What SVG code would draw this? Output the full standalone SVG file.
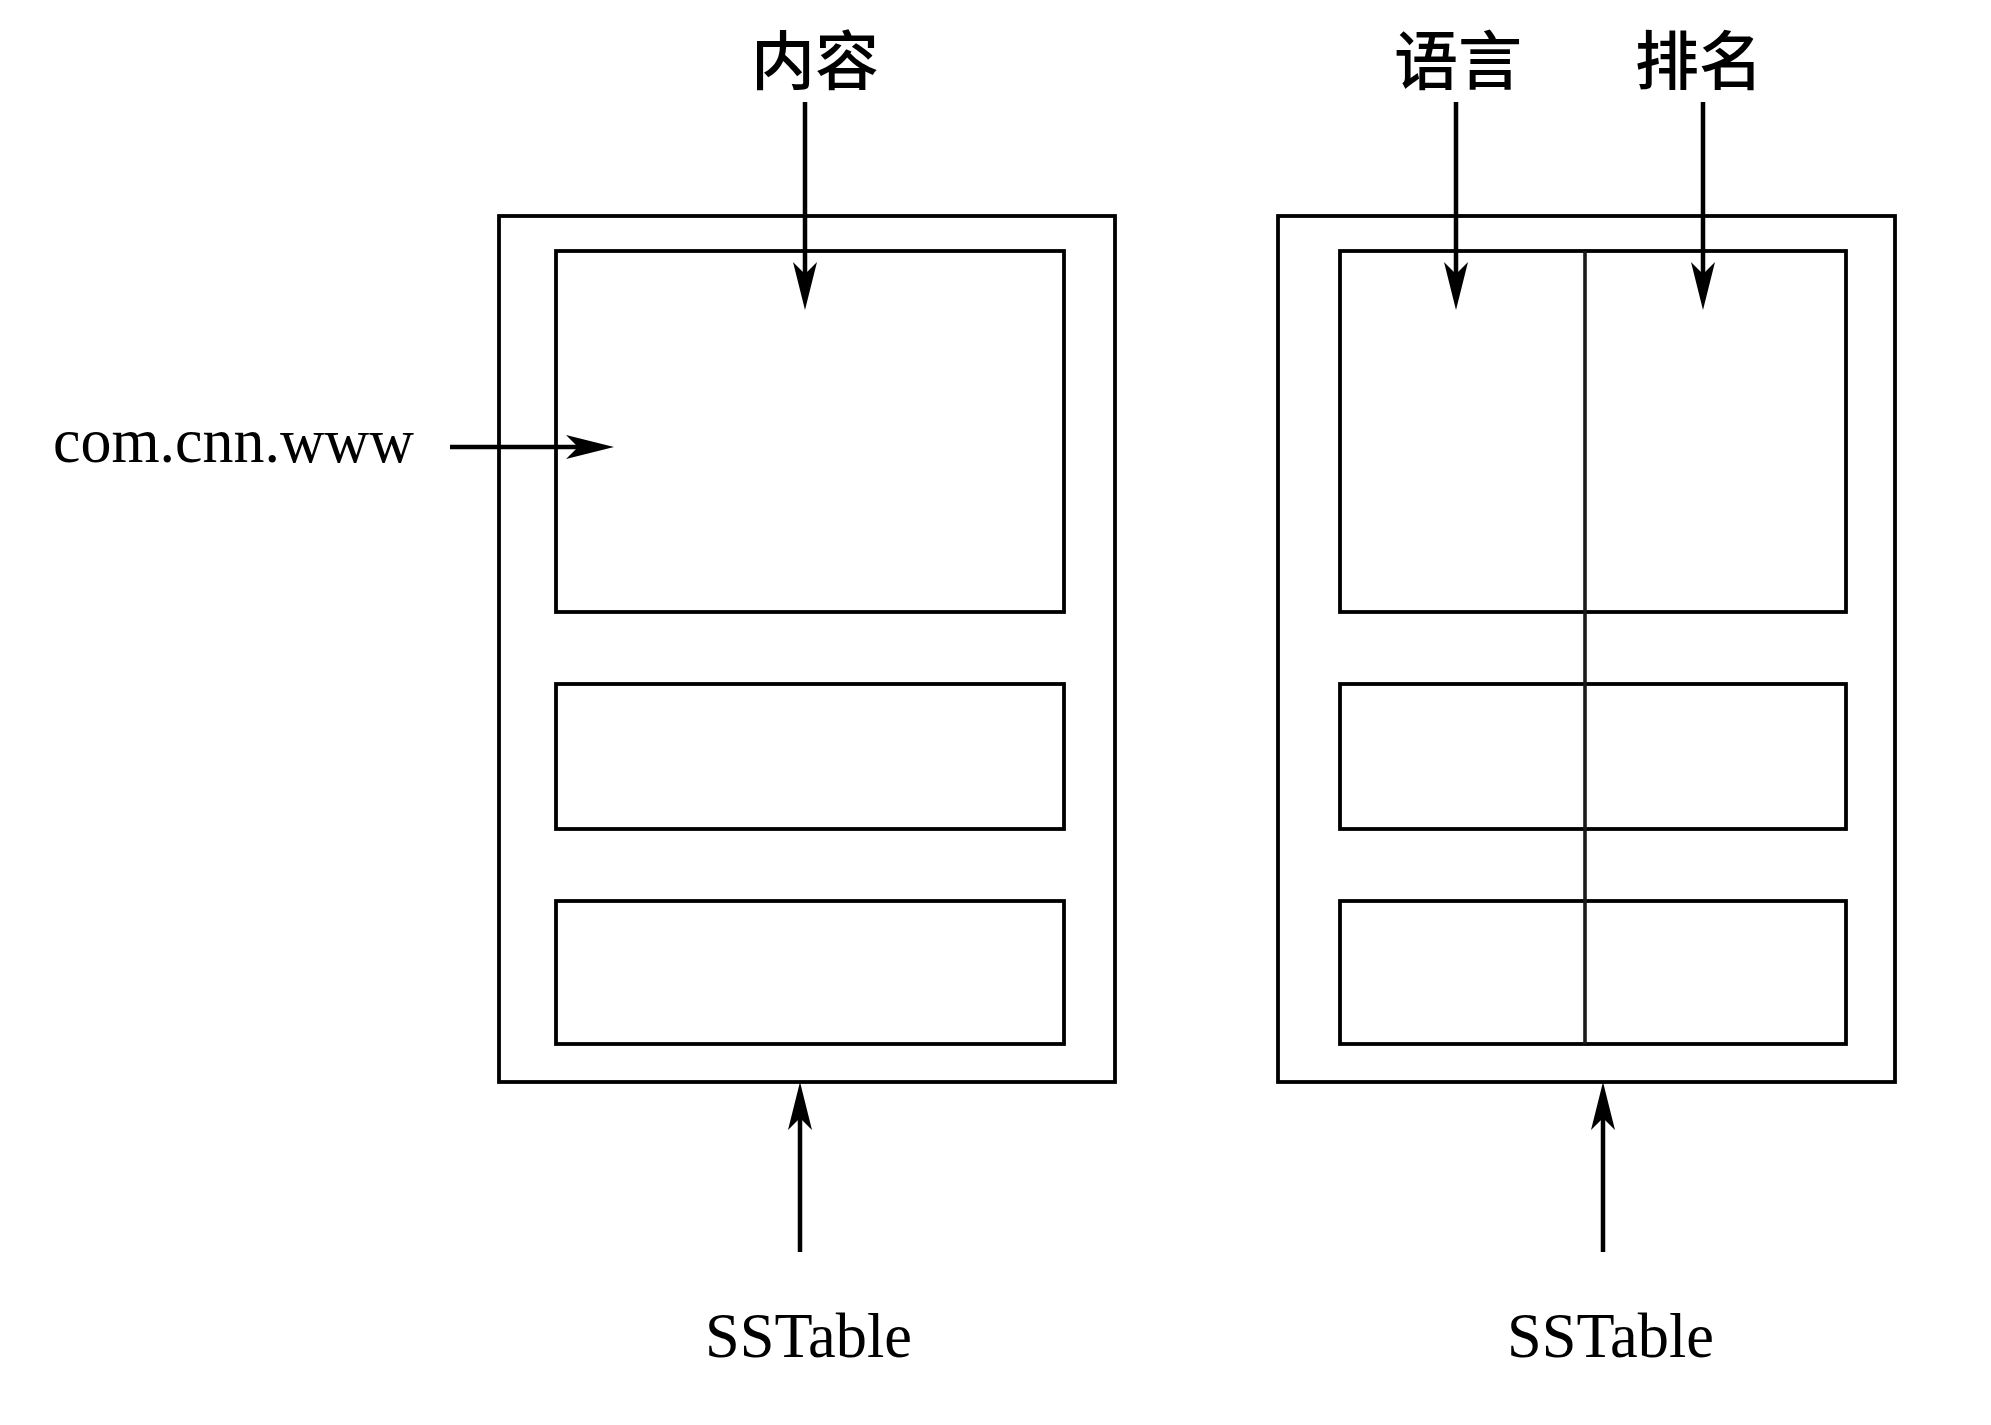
<svg xmlns="http://www.w3.org/2000/svg" width="1991" height="1425" viewBox="0 0 1991 1425">
<style>
.box{fill:none;stroke:#000;stroke-width:3.8}
.div{fill:none;stroke:#1a1a1a;stroke-width:3.6}
.conn{fill:none;stroke:#000;stroke-width:4.5}
.cjk{font-family:"Noto Sans CJK SC","Noto Sans CJK TC",sans-serif;font-size:64px;font-weight:500;fill:#000;text-anchor:middle}
.lat{font-family:"Liberation Serif","Times New Roman",serif;font-size:64px;fill:#000}
</style>
<defs>
<marker id="ah" viewBox="0 0 48 24" refX="18" refY="12" markerWidth="48" markerHeight="24" orient="auto" markerUnits="userSpaceOnUse">
<path d="M0,0 L48,12 L0,24 L12,12 Z" fill="#000"/>
</marker>
</defs>
<rect width="1991" height="1425" fill="#fff"/>
<g id="sstable-left">
<rect class="box" x="499" y="216" width="616" height="866"/>
<rect class="box" x="556" y="251" width="508" height="361"/>
<rect class="box" x="556" y="684" width="508" height="145"/>
<rect class="box" x="556" y="901" width="508" height="143"/>
</g>
<g id="sstable-right">
<rect class="box" x="1278" y="216" width="617" height="866"/>
<rect class="box" x="1340" y="251" width="506" height="361"/>
<rect class="box" x="1340" y="684" width="506" height="145"/>
<rect class="box" x="1340" y="901" width="506" height="143"/>
<line class="div" x1="1585" y1="251" x2="1585" y2="1044"/>
</g>
<g id="labels">
<text id="lbl-content" class="cjk" x="815" y="84">内容</text>
<text id="lbl-lang" class="cjk" x="1458" y="84">语言</text>
<text id="lbl-rank" class="cjk" x="1699" y="84">排名</text>
<text id="lbl-row" class="lat" x="53" y="462" font-size="66" textLength="361" lengthAdjust="spacingAndGlyphs">com.cnn.www</text>
<text id="lbl-ss1" class="lat" x="705" y="1357" textLength="207" lengthAdjust="spacingAndGlyphs">SSTable</text>
<text id="lbl-ss2" class="lat" x="1507" y="1357" textLength="207" lengthAdjust="spacingAndGlyphs">SSTable</text>
</g>
<g id="connectors">
<line class="conn" x1="805" y1="102" x2="805" y2="280" marker-end="url(#ah)"/>
<line class="conn" x1="1456" y1="102" x2="1456" y2="280" marker-end="url(#ah)"/>
<line class="conn" x1="1703" y1="102" x2="1703" y2="280" marker-end="url(#ah)"/>
<line class="conn" x1="450" y1="447" x2="584" y2="447" marker-end="url(#ah)"/>
<line class="conn" x1="800" y1="1252" x2="800" y2="1112" marker-end="url(#ah)"/>
<line class="conn" x1="1603" y1="1252" x2="1603" y2="1112" marker-end="url(#ah)"/>
</g>
</svg>
